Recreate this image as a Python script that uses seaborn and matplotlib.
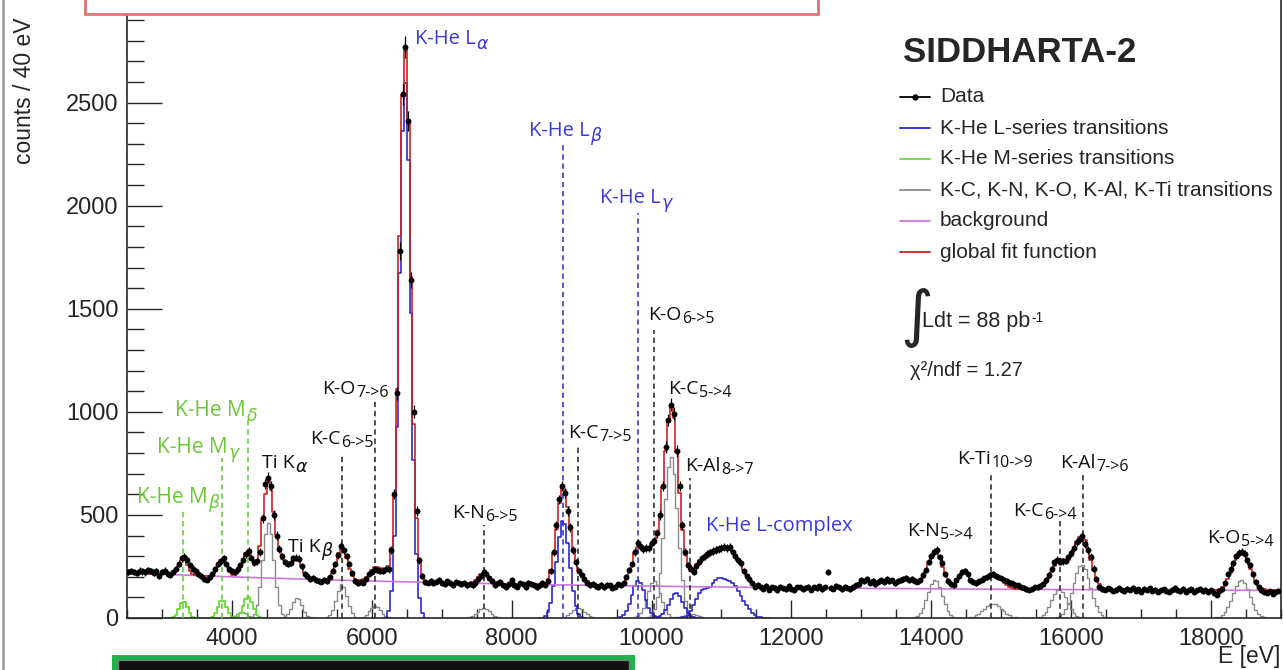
import numpy as np
import matplotlib
matplotlib.use("Agg")
import matplotlib.pyplot as plt
import seaborn as sns
from matplotlib.lines import Line2D
from matplotlib.patches import Rectangle
from matplotlib.ticker import MultipleLocator

# ------------------------------------------------------------------ data
bin_start = 2500      # eV, first bin edge
bin_width = 40        # eV per bin

# measured counts per 40 eV bin (bin centres 2520, 2560, ... 18960 eV)
counts = [
    # 2520 - 3120
    222, 228, 225, 219, 230, 226, 221, 232, 227, 218, 229, 204, 223, 230, 212, 210,
    # 3160 - 3600
    222, 238, 262, 290, 298, 282, 258, 240, 228, 212, 205, 190,
    # 3640 - 3960
    186, 198, 212, 236, 262, 275, 290, 262, 238,
    # 4000 - 4360
    228, 222, 236, 258, 282, 310, 325, 292, 270, 275,
    # 4400 - 4720
    320, 484, 650, 680, 640, 500, 400, 335, 300,
    # 4760 - 5080
    272, 262, 268, 290, 292, 288, 250, 215, 205,
    # 5120 - 5400
    190, 196, 185, 180, 176, 186, 178, 198,
    # 5440 - 5760
    230, 262, 305, 350, 328, 300, 262, 218, 180,
    # 5800 - 6240
    170, 176, 172, 190, 212, 225, 238, 232, 228, 230, 240, 236,
    # 6280 - 6760
    330, 600, 1090, 1780, 2540, 2770, 2410, 1640, 1000, 520, 280, 205, 175,
    # 6800 - 7480
    172, 181, 168, 176, 186, 170, 163, 178, 172, 158, 176, 168, 164, 171, 160, 166, 158, 170,
    # 7520 - 7840
    190, 205, 222, 212, 195, 180, 160, 172, 176,
    # 7880 - 8480
    158, 150, 165, 186, 160, 152, 168, 163, 150, 171, 166, 160, 148, 158, 170, 162,
    # 8520 - 9200
    180, 228, 318, 450, 575, 640, 605, 520, 440, 330, 270, 228, 210, 190, 172, 160, 165, 155,
    # 9240 - 9560
    150, 162, 148, 160, 158, 146, 152, 163, 158,
    # 9600 - 10080
    172, 198, 232, 262, 320, 365, 350, 335, 340, 338, 365, 372, 410,
    # 10120 - 10560
    500, 640, 830, 960, 1035, 990, 810, 640, 450, 320, 255, 240,
    # 10600 - 11120
    225, 250, 272, 290, 300, 312, 318, 325, 330, 335, 340, 345, 340, 345,
    # 11160 - 11560
    318, 300, 280, 265, 228, 205, 190, 172, 152, 160, 148,
    # 11600 - 12960
    142, 155, 138, 150, 146, 135, 152, 144, 140, 156, 141, 135, 148, 150, 139, 146, 152, 137,
    148, 145, 153, 140, 150, 222, 146, 142, 155, 148, 139, 151, 147, 140, 150, 158, 165,
    # 13000 - 13840
    185, 178, 190, 172, 180, 165, 176, 185, 175, 190, 178, 182, 168, 180, 185, 190, 195, 182,
    188, 180, 176, 185,
    # 13880 - 14520
    210, 232, 272, 300, 320, 330, 295, 268, 215, 180, 165, 160, 182, 205, 222, 228, 215,
    # 14560 - 15560
    182, 176, 170, 178, 186, 192, 200, 208, 212, 205, 198, 192, 186, 180, 172, 168, 160, 158,
    150, 146, 140, 136, 142, 148, 150, 155,
    # 15600 - 16520
    165, 185, 210, 240, 270, 282, 273, 275, 278, 295, 315, 340, 370, 385, 398, 360, 330, 298,
    240, 190, 150, 140, 136, 145,
    # 16560 - 18120
    142, 131, 138, 144, 136, 129, 141, 137, 146, 133, 139, 128, 142, 136, 145, 131, 138, 127,
    134, 140, 132, 126, 137, 146, 135, 130, 141, 128, 136, 139, 125, 134, 142, 130, 137, 128,
    135, 120, 114, 133,
    # 18160 - 18960
    140, 170, 212, 240, 265, 300, 315, 322, 310, 280, 255, 215, 175, 150, 135, 128, 122, 130,
    118, 124, 132,
]

# fit: background = const + amp * exp(-(E - 2500) / decay)
bkg_const = 128
bkg_amp = 92
bkg_decay = 6000

# K-He L-series (blue); the last four form the "L-complex"
L_center = [6475, 8735, 9810, 10350, 10720, 10950, 11150, 11320]
L_amp = [2600, 475, 180, 120, 125, 165, 140, 50]
L_sigma = [80, 90, 93, 98, 100, 100, 100, 100]
L_group = ["La", "Lb", "Lg", "Ld", "Lc", "Lc", "Lc", "Lc"]

# K-He M-series (green): M_beta, M_gamma, M_delta
M_center = [3305, 3860, 4232]
M_amp = [78, 85, 105]
M_sigma = [60, 63, 65]

# K-C, K-N, K-O, K-Al, K-Ti and Ti fluorescence lines (grey)
X_center = [4150, 4520, 4930, 5570, 6045, 7605, 8950, 10035, 10275, 10555,
            14050, 14880, 15830, 16150, 18430]
X_amp = [30, 460, 100, 165, 60, 50, 50, 180, 780, 20, 185, 70, 140, 260, 185]
X_sigma = [66, 80, 72, 76, 78, 86, 92, 96, 97, 99, 105, 130, 110, 120, 120]

# remaining terms of the global fit (not drawn separately)
O_center = [4700, 6200, 13050, 13350, 13650, 14470]
O_amp = [75, 40, 40, 40, 45, 85]
O_sigma = [90, 90, 100, 100, 100, 80]

# ------------------------------------------------------------------ style
sns.set_style("ticks")
plt.rcParams["font.family"] = ["Liberation Sans", "DejaVu Sans"]
plt.rcParams["axes.linewidth"] = 1.2

BLUE = "#2a2ad2"
BLUE_T = "#3a3ae2"
GREEN = "#66dd33"
GREEN_T = "#6cc836"
GREY = "#8a8a8a"
RED = "#cc2222"
MAGENTA = "#cc77dd"
LABEL_FONT = ["Open Sans", "DejaVu Sans"]

W, H = 1284, 670
fig = plt.figure(figsize=(W / 100, H / 100), dpi=100)


def fx(px):
    return px / W


def fy(py):
    return 1 - py / H


ax = fig.add_axes([fx(127), 52 / H, (1281 - 127) / W, 618 / H])

counts = np.asarray(counts, dtype=float)
n = len(counts)
edges = bin_start + bin_width * np.arange(n + 1)
centers = edges[:-1] + bin_width / 2


def gauss(c, a, s):
    return a * np.exp(-0.5 * ((centers - c) / s) ** 2)


bkg = bkg_const + bkg_amp * np.exp(-(centers - bin_start) / bkg_decay)

comps_L = {}
for c, a, s, g in zip(L_center, L_amp, L_sigma, L_group):
    comps_L.setdefault(g, [np.zeros(n), c, c, s])
    comps_L[g][0] = comps_L[g][0] + gauss(c, a, s)
    comps_L[g][1] = min(comps_L[g][1], c)
    comps_L[g][2] = max(comps_L[g][2], c)
comps_M = [(gauss(c, a, s), c, c, s) for c, a, s in zip(M_center, M_amp, M_sigma)]
comps_X = [(gauss(c, a, s), c, c, s) for c, a, s in zip(X_center, X_amp, X_sigma)]
others = sum(gauss(c, a, s) for c, a, s in zip(O_center, O_amp, O_sigma))

fit = bkg + others
for v in comps_L.values():
    fit = fit + v[0]
for v in comps_M + comps_X:
    fit = fit + v[0]


def draw_comp(vals, lo, hi, sig, color, lw, z=2):
    sel = np.where((centers >= lo - 3.3 * sig) & (centers <= hi + 3.3 * sig))[0]
    i0 = max(sel[0] - 1, 0)
    i1 = min(sel[-1] + 1, n - 1)
    w = vals[i0:i1 + 1].copy()
    w[0] = 0
    w[-1] = 0
    sns.histplot(x=centers[i0:i1 + 1], weights=w, bins=list(edges[i0:i1 + 2]),
                 element="step", fill=False, color=color, linewidth=lw,
                 ax=ax, zorder=z)


for v in comps_X:
    draw_comp(v[0], v[1], v[2], v[3], GREY, 1.0)
for v in comps_M:
    draw_comp(v[0], v[1], v[2], v[3], GREEN, 1.3)
for v in comps_L.values():
    draw_comp(v[0], v[1], v[2], v[3], BLUE, 1.2)

sns.lineplot(x=centers, y=bkg, color=MAGENTA, linewidth=1.2, ax=ax, zorder=2.5)
sns.histplot(x=centers, weights=fit, bins=list(edges), element="step", fill=False,
             color=RED, linewidth=1.2, ax=ax, zorder=3)

ax.errorbar(centers, counts, yerr=np.sqrt(counts), fmt="none", ecolor="black",
            elinewidth=0.9, capsize=0, zorder=4)
sns.scatterplot(x=centers, y=counts, color="black", s=18, linewidth=0,
                ax=ax, zorder=5)

# ------------------------------------------------------------------ labels
K = "#111111"
labels = [
    ("K-He L", r"$\alpha$", 6618, 2784, BLUE_T, None, None),
    ("K-He L", r"$\beta$", 8248, 2337, BLUE_T, 8734, 2296),
    ("K-He L", r"$\gamma$", 9263, 2012, BLUE_T, 9806, 1966),
    ("K-O", "6->5", 9949, 1444, K, 10035, 1398),
    ("K-C", "5->4", 10235, 1085, K, None, None),
    ("K-C", "7->5", 8805, 871, K, 8948, 840),
    ("K-Al", "8->7", 10478, 711, K, 10550, 680),
    ("K-He L-complex", "", 10779, 420, BLUE_T, None, None),
    ("K-N", "6->5", 7147, 483, K, 7604, 451),
    ("K-O", "7->6", 5288, 1085, K, 6046, 1058),
    ("K-C", "6->5", 5117, 842, K, 5574, 791),
    ("Ti K", r"$\alpha$", 4430, 726, K, None, None),
    ("Ti K", r"$\beta$", 4802, 318, K, None, None),
    ("K-He M", r"$\delta$", 3186, 978, GREEN_T, 4230, 961),
    ("K-He M", r"$\gamma$", 2929, 799, GREEN_T, 3858, 777),
    ("K-He M", r"$\beta$", 2643, 556, GREEN_T, 3301, 524),
    ("K-N", "5->4", 13652, 396, K, None, None),
    ("K-Ti", "10->9", 14367, 745, K, 14853, 709),
    ("K-C", "6->4", 15168, 493, K, 15840, 476),
    ("K-Al", "7->6", 15840, 726, K, 16169, 694),
    ("K-O", "5->4", 17942, 362, K, None, None),
]

for main, sub, x, y, col, lx, ltop in labels:
    fs = 15 if col == GREEN_T else (14.5 if col == BLUE_T else 14)
    t = ax.text(x, y, main, color=col, fontsize=fs, family=LABEL_FONT,
                ha="left", va="baseline", zorder=6)
    if sub:
        greek = sub.startswith("$")
        ax.annotate(sub, xy=(1, 0), xycoords=t, xytext=(0.5, 0.3 if greek else 0.8),
                    textcoords="offset points", color=col,
                    fontsize=12.5 if greek else 11.5,
                    family=LABEL_FONT, ha="left", va="baseline", zorder=6,
                    annotation_clip=False)
    if lx is not None:
        lcol = {BLUE_T: BLUE, GREEN_T: "#55cc33"}.get(col, "#222222")
        ax.plot([lx, lx], [0, ltop], color=lcol, lw=1.1, ls=(0, (3.5, 2.5)), zorder=3)

# ------------------------------------------------------------------ axes
ax.set_xlim(2500, 19000)
ax.set_ylim(0, 2998)
ax.set_xlabel("")
ax.set_ylabel("")
ax.xaxis.set_major_locator(MultipleLocator(2000))
ax.xaxis.set_minor_locator(MultipleLocator(500))
ax.yaxis.set_major_locator(MultipleLocator(500))
ax.yaxis.set_minor_locator(MultipleLocator(100))
ax.tick_params(axis="x", which="major", direction="in", length=13.3, width=1,
               pad=7, labelsize=17)
ax.tick_params(axis="x", which="minor", direction="in", length=6.6, width=1)
ax.tick_params(axis="y", which="major", direction="in", length=25, width=1,
               pad=6, labelsize=17)
ax.tick_params(axis="y", which="minor", direction="in", length=12.5, width=1)
ax.spines["top"].set_visible(False)
ax.spines["right"].set_visible(True)

fig.text(fx(25), fy(17), "counts / 40 eV", rotation=90, ha="center", va="top",
         fontsize=16.5)
fig.text(fx(1280), fy(657), "E [eV]", ha="right", va="center", fontsize=16.5)

# ------------------------------------------------------------------ legend / info
fig.text(fx(903), fy(52), "SIDDHARTA-2", fontsize=25, weight="bold", va="center")
leg_rows = [
    ("Data", "black", True),
    ("K-He L-series transitions", BLUE, False),
    ("K-He M-series transitions", GREEN, False),
    ("K-C, K-N, K-O, K-Al, K-Ti transitions", GREY, False),
    ("background", MAGENTA, False),
    ("global fit function", RED, False),
]
for i, (txt, col, dot) in enumerate(leg_rows):
    yy = fy(97 + 31 * i)
    fig.add_artist(Line2D([fx(900), fx(930)], [yy, yy], color=col, lw=1.3))
    if dot:
        fig.add_artist(Line2D([fx(915)], [yy], color=col, marker="o", ms=3.5))
    fig.text(fx(940), yy, txt, fontsize=15, va="center")

fig.text(fx(900), fy(318), r"$\int$", fontsize=32, va="center", ha="left")
tl = fig.text(fx(922), fy(322), "Ldt = 88 pb", fontsize=15.5, va="center")
ax.annotate("-1", xy=(1, 0.7), xycoords=tl, xytext=(1, 0), textcoords="offset points",
            fontsize=10, va="center", ha="left", annotation_clip=False)
fig.text(fx(910), fy(370), "χ²/ndf = 1.27", fontsize=14.5, va="center")

# ------------------------------------------------------------------ frame marks
fig.add_artist(Rectangle((fx(85), fy(14)), (818 - 85) / W, 30 / H,
                         transform=fig.transFigure, facecolor="white",
                         edgecolor="#e07272", lw=2, zorder=10))
fig.add_artist(Rectangle((fx(112), fy(675)), (635 - 112) / W, 20 / H,
                         transform=fig.transFigure, facecolor="#1fb24a",
                         edgecolor="none", zorder=10))
fig.add_artist(Rectangle((fx(118), fy(675)), (629 - 118) / W, 15 / H,
                         transform=fig.transFigure, facecolor="#111111",
                         edgecolor="#777777", lw=1, zorder=11))
fig.add_artist(Line2D([fx(3), fx(3)], [0, 1], color="#a0a0a0", lw=2))

fig.savefig("out.png", dpi=100)
